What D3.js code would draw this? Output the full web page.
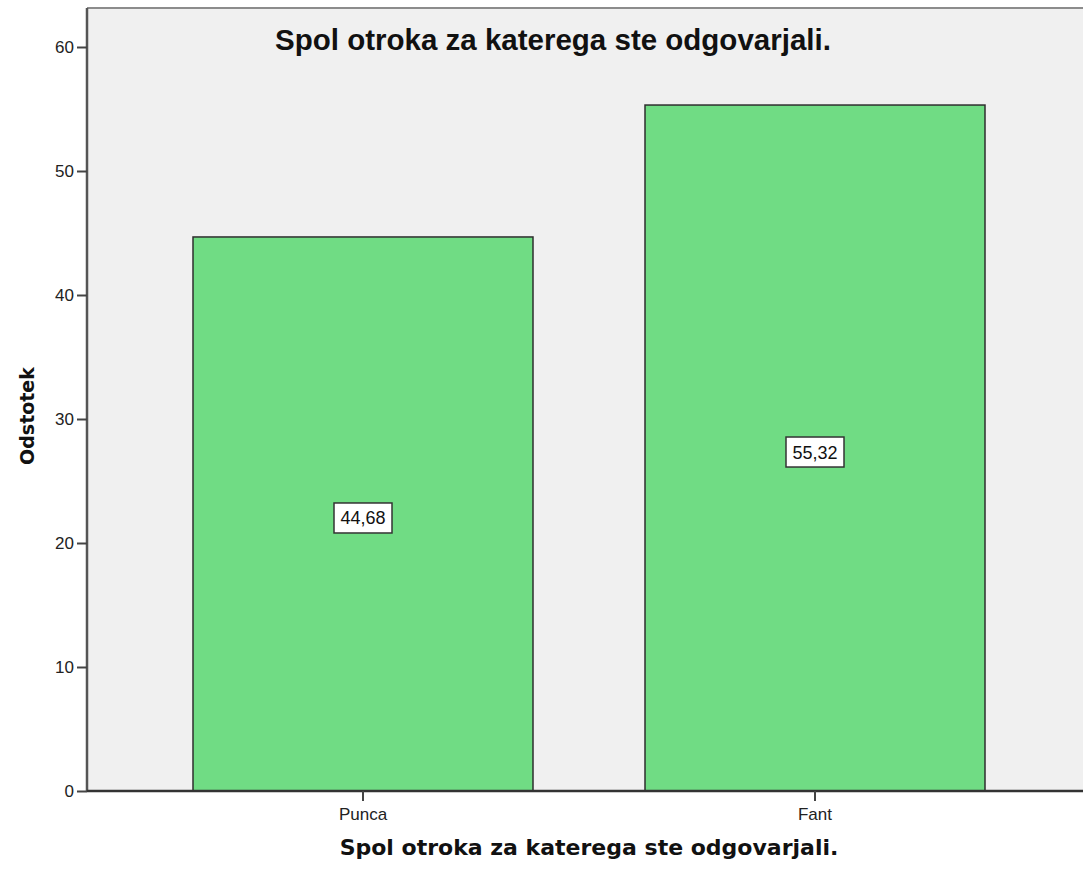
<!DOCTYPE html>
<html>
<head>
<meta charset="utf-8">
<script src="https://cdn.jsdelivr.net/npm/d3@7"></script>
<style>
  body { margin: 0; background: #fff; }
  svg { display: block; }
</style>
</head>
<body>
<svg id="chart" width="1083" height="874"></svg>
<script>
// data
const categories = ['Punca', 'Fant'];
const percents = [44.68, 55.32];
const valueLabels = ['44,68', '55,32'];
const yTicks = [0, 10, 20, 30, 40, 50, 60];

const titleText = 'Spol otroka za katerega ste odgovarjali.';
const xTitleText = 'Spol otroka za katerega ste odgovarjali.';
const yTitleText = 'Odstotek';

const svg = d3.select('#chart');

const plot = { left: 87, top: 8, right: 1100, bottom: 791 };

const y = d3.scaleLinear()
    .domain([0, 60])
    .range([plot.bottom, 47]);

const x = d3.scaleBand()
    .domain(categories)
    .range([137, 1041])
    .paddingInner(0.2478)
    .paddingOuter(0.1239);

// plot background
svg.append('rect')
    .attr('x', plot.left)
    .attr('y', plot.top)
    .attr('width', plot.right - plot.left)
    .attr('height', plot.bottom - plot.top)
    .attr('fill', '#f0f0f0');

svg.append('line')
    .attr('x1', plot.left).attr('x2', plot.right)
    .attr('y1', plot.top).attr('y2', plot.top)
    .attr('stroke', '#8c8c8c')
    .attr('stroke-width', 2);

// bars
svg.append('g')
    .selectAll('rect')
    .data(categories)
    .enter()
    .append('rect')
    .attr('x', d => x(d))
    .attr('y', (d, i) => y(percents[i]))
    .attr('width', x.bandwidth())
    .attr('height', (d, i) => y(0) - y(percents[i]))
    .attr('fill', '#70dc84')
    .attr('stroke', '#2e2e2e')
    .attr('stroke-width', 1.5);

// value labels in boxes
const labels = svg.append('g')
    .selectAll('g')
    .data(categories)
    .enter()
    .append('g')
    .attr('transform', (d, i) => 'translate(' + (x(d) + x.bandwidth() / 2) + ',' + ((y(percents[i]) + y(0)) / 2 + 4) + ')');

labels.append('rect')
    .attr('x', -29)
    .attr('y', -15)
    .attr('width', 58)
    .attr('height', 30)
    .attr('fill', '#fff')
    .attr('stroke', '#333')
    .attr('stroke-width', 1.5);

labels.append('text')
    .attr('text-anchor', 'middle')
    .attr('dy', '0.36em')
    .style('font-family', 'Arial, "Liberation Sans", sans-serif')
    .style('font-size', '18px')
    .attr('fill', '#111')
    .text((d, i) => valueLabels[i]);

// y axis
const yAxis = svg.append('g')
    .attr('transform', 'translate(' + plot.left + ',0)')
    .call(d3.axisLeft(y).tickValues(yTicks).tickSize(10).tickPadding(3).tickFormat(d3.format('d')));
yAxis.select('.domain')
    .attr('d', 'M0,' + plot.top + 'V' + plot.bottom)
    .attr('stroke', '#555')
    .attr('stroke-width', 2.5);
yAxis.selectAll('.tick line').attr('stroke', '#444').attr('stroke-width', 2);
yAxis.selectAll('.tick text')
    .style('font-family', 'Arial, "Liberation Sans", sans-serif')
    .style('font-size', '17px')
    .attr('fill', '#222');

// x axis
const xAxis = svg.append('g')
    .attr('transform', 'translate(0,' + plot.bottom + ')')
    .call(d3.axisBottom(x).tickSize(10).tickPadding(7));
xAxis.select('.domain')
    .attr('d', 'M' + plot.left + ',0H' + plot.right)
    .attr('stroke', '#333')
    .attr('stroke-width', 2.5);
xAxis.selectAll('.tick line').attr('stroke', '#444').attr('stroke-width', 2);
xAxis.selectAll('.tick text')
    .style('font-family', 'Arial, "Liberation Sans", sans-serif')
    .style('font-size', '17px')
    .attr('fill', '#222');

// titles
svg.append('text')
    .attr('x', 553)
    .attr('y', 50)
    .attr('text-anchor', 'middle')
    .style('font-family', 'Arial, "Liberation Sans", sans-serif')
    .style('font-weight', 'bold')
    .style('font-size', '29.5px')
    .attr('fill', '#111')
    .text(titleText);

svg.append('text')
    .attr('x', 589)
    .attr('y', 855)
    .attr('text-anchor', 'middle')
    .style('font-family', '"DejaVu Sans", Verdana, sans-serif')
    .style('font-weight', 'bold')
    .style('font-size', '22px')
    .attr('fill', '#111')
    .text(xTitleText);

svg.append('text')
    .attr('transform', 'translate(34,416) rotate(-90)')
    .attr('text-anchor', 'middle')
    .style('font-family', '"DejaVu Sans", Verdana, sans-serif')
    .style('font-weight', 'bold')
    .style('font-size', '19px')
    .attr('fill', '#111')
    .text(yTitleText);
</script>
</body>
</html>
